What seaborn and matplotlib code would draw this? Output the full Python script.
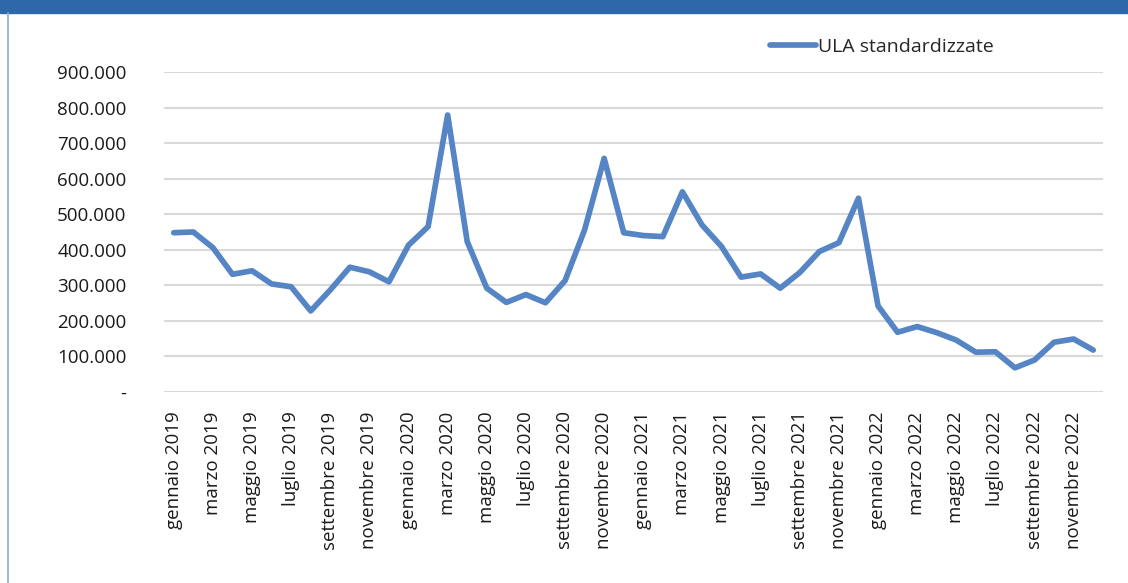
import pandas as pd
import matplotlib
matplotlib.use('Agg')
import matplotlib.pyplot as plt
import seaborn as sns
from matplotlib.patches import Rectangle
from matplotlib.lines import Line2D

# Monthly values, Jan 2019 - Dec 2022
mesi = ['gennaio', 'febbraio', 'marzo', 'aprile', 'maggio', 'giugno', 'luglio',
        'agosto', 'settembre', 'ottobre', 'novembre', 'dicembre']
anni = [2019, 2020, 2021, 2022]
periodi = [f'{m} {a}' for a in anni for m in mesi]

ula = [448000, 450000, 406000, 331000, 341000, 304000, 296000, 228000, 287000, 351000, 338000, 310000,
       413000, 465000, 779000, 423000, 292000, 252000, 274000, 251000, 313000, 456000, 657000, 448000,
       440000, 437000, 563000, 470000, 409000, 323000, 332000, 292000, 336000, 395000, 420000, 545000,
       242000, 168000, 184000, 167000, 146000, 112000, 113000, 68000, 90000, 140000, 149000, 118000]

y_ticks = [0, 100000, 200000, 300000, 400000, 500000, 600000, 700000, 800000, 900000]

df = pd.DataFrame({'periodo': periodi, 'ULA standardizzate': ula})
df['pos'] = range(len(df))

sns.set_style('white')
plt.rcParams['font.family'] = ['Open Sans', 'DejaVu Sans']

fig = plt.figure(figsize=(11.28, 5.83), dpi=100)
ax = fig.add_axes([164 / 1128, 1 - 392 / 583, 939 / 1128, 320 / 583])

sns.lineplot(data=df, x='pos', y='ULA standardizzate', ax=ax, color='#5585C5',
             linewidth=4.1, label='ULA standardizzate')

ax.set_xlim(-0.5, len(df) - 0.5)
ax.set_ylim(0, 900000)
ax.set_yticks(y_ticks)
ax.set_yticklabels(['-' if v == 0 else f'{v:,}'.replace(',', '.') for v in y_ticks])
ax.set_xticks(df['pos'][::2])
ax.set_xticklabels(df['periodo'][::2], rotation=90, va='top', ha='center')
ax.tick_params(axis='y', length=0, pad=27, labelsize=13.5, labelcolor='#1a1a1a')
ax.tick_params(axis='x', length=0, pad=14, labelsize=13.5, labelcolor='#1a1a1a')
ax.set_xlabel('')
ax.set_ylabel('')
ax.grid(True, axis='y', color='#D9D9D9', linewidth=1.5)
ax.set_axisbelow(True)
for s in ax.spines.values():
    s.set_visible(False)

ax.legend(loc='lower left', bbox_to_anchor=(598 / 939, 1.025), frameon=False,
          fontsize=14, handlelength=2.4, handletextpad=0.1, borderaxespad=0)

# header band and left border
fig.patches.append(Rectangle((0, 1 - 13 / 583), 1, 13 / 583, transform=fig.transFigure,
                             color='#2E68A8', zorder=0))
fig.lines.append(Line2D([8 / 1128, 8 / 1128], [0, 1 - 13 / 583], transform=fig.transFigure,
                        color='#8EAEDB', linewidth=1.2))

plt.savefig('out.png', dpi=100)
